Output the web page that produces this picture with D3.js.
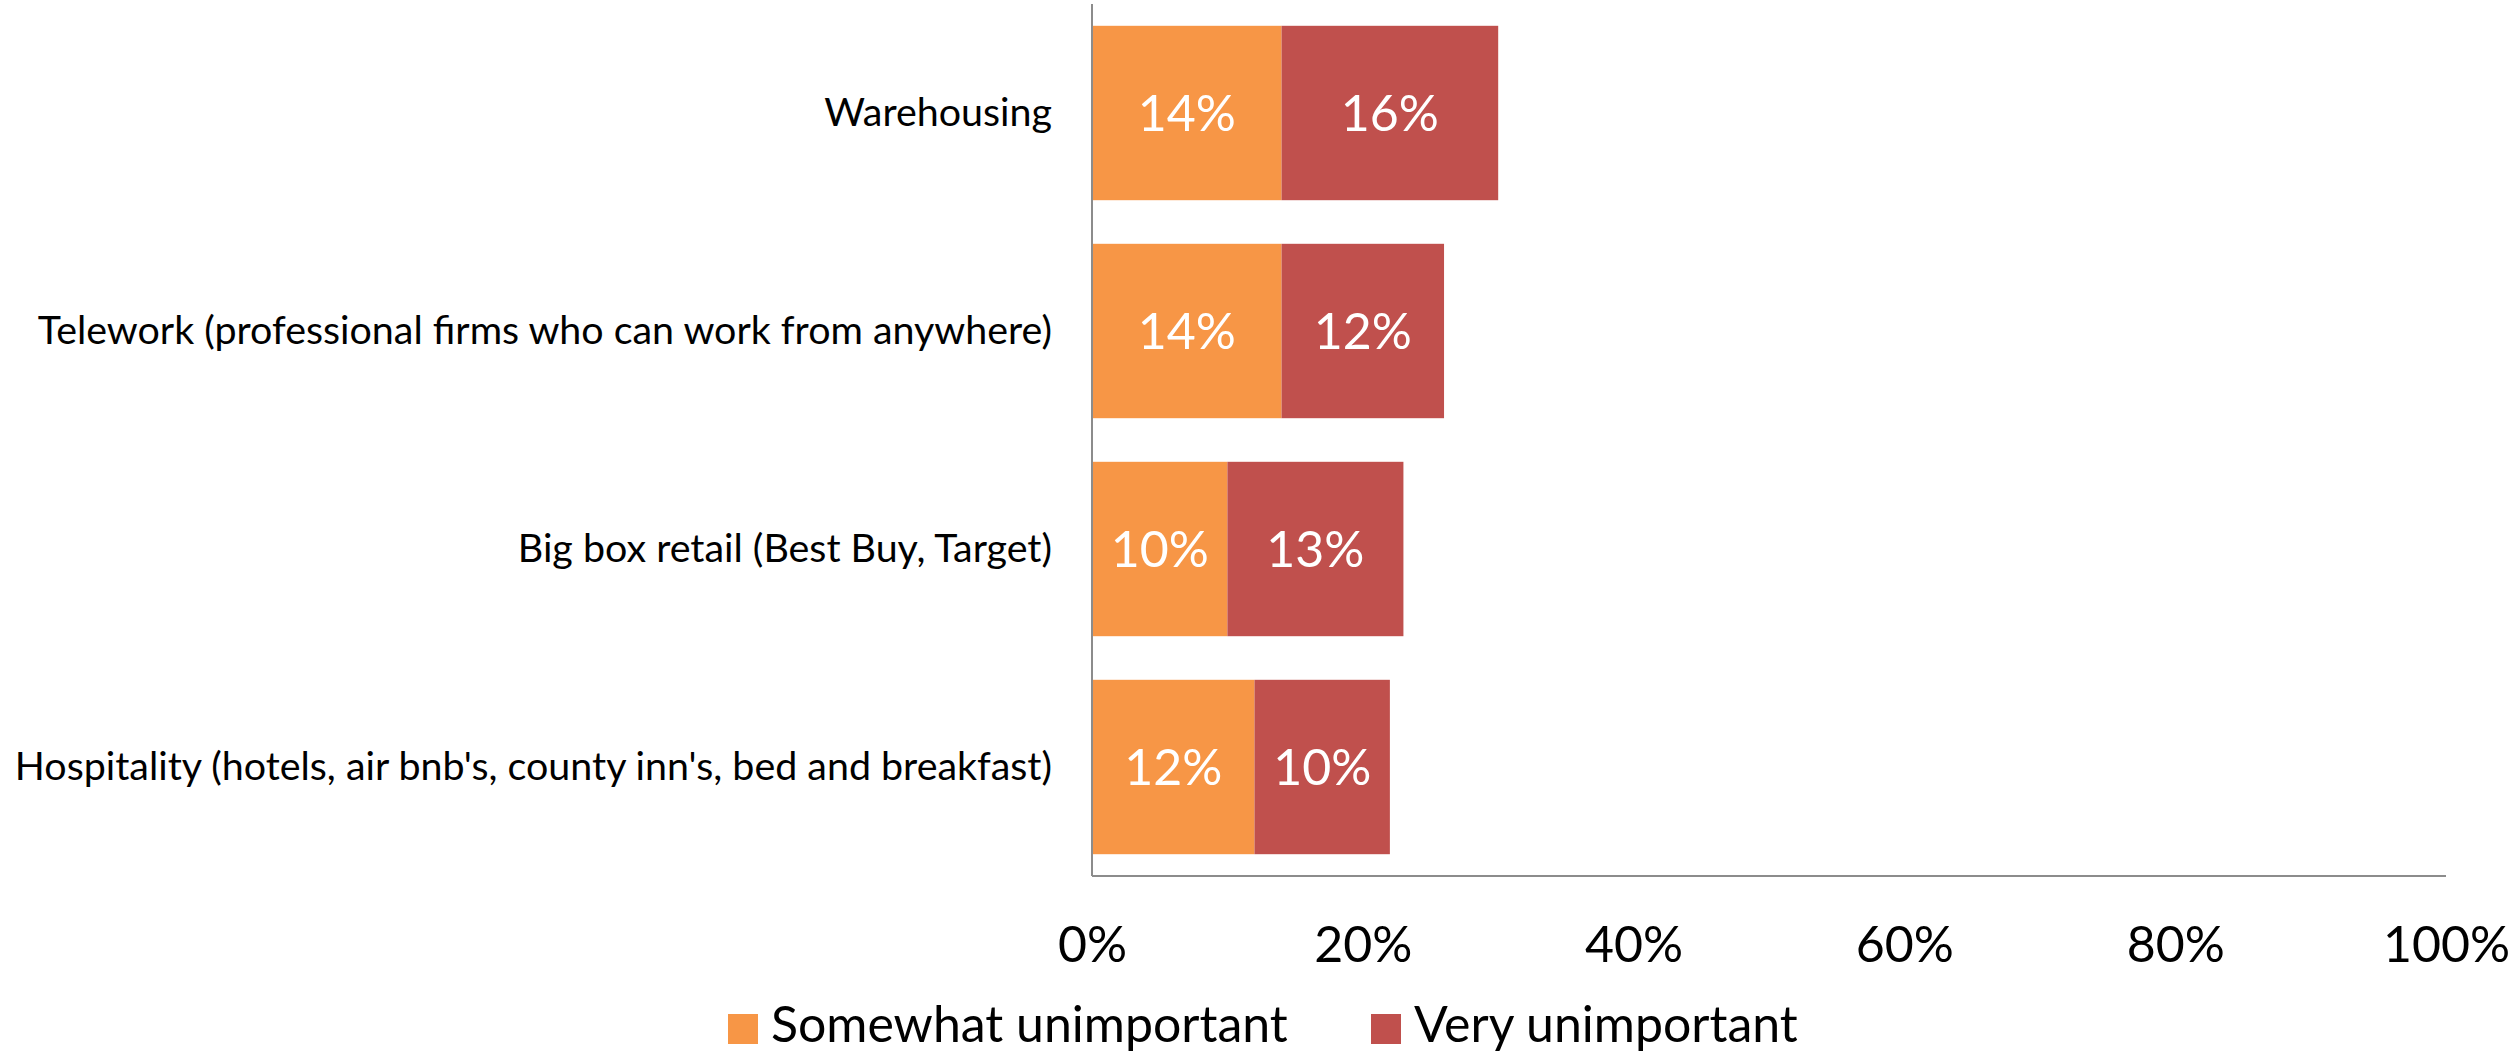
<!DOCTYPE html>
<html>
<head>
<meta charset="utf-8">
<script src="https://cdn.jsdelivr.net/npm/d3@7"></script>
<style>
  html, body { margin: 0; padding: 0; background: #ffffff; overflow: hidden; }
  svg { display: block; font-family: Lato, "Open Sans", sans-serif; }
</style>
</head>
<body>
<svg id="chart" width="2509" height="1053"></svg>
<script>
// Categories, top to bottom
const categories = [
  "Warehousing",
  "Telework (professional firms who can work from anywhere)",
  "Big box retail (Best Buy, Target)",
  "Hospitality (hotels, air bnb's, county inn's, bed and breakfast)"
];
// Share of respondents (%) per series
const somewhatUnimportant = [14, 14, 10, 12];
const veryUnimportant = [16, 12, 13, 10];
const seriesNames = ["Somewhat unimportant", "Very unimportant"];
const seriesColors = ["#F79646", "#C0504D"];
const tickValues = [0, 20, 40, 60, 80, 100];

const svg = d3.select("#chart");
const plot = { left: 1092, right: 2446, top: 4, bottom: 876 };

const x = d3.scaleLinear().domain([0, 100]).range([plot.left, plot.right]);
const y = d3.scaleBand().domain(categories).range([plot.top, plot.bottom])
  .paddingInner(0.2).paddingOuter(0.1);

const rows = categories.map((c, i) => ({ category: c, somewhat: somewhatUnimportant[i], very: veryUnimportant[i] }));
const stacked = d3.stack().keys(["somewhat", "very"])(rows);

// Stacked bars
const layers = svg.append("g").selectAll("g").data(stacked).join("g")
  .attr("fill", (d, i) => seriesColors[i]);
layers.selectAll("rect").data(d => d).join("rect")
  .attr("x", d => x(d[0]))
  .attr("width", d => x(d[1]) - x(d[0]))
  .attr("y", d => y(d.data.category))
  .attr("height", y.bandwidth());

// Value labels inside the segments
layers.selectAll("text").data(d => d.map(v => ({ v, key: d.key }))).join("text")
  .attr("x", d => (x(d.v[0]) + x(d.v[1])) / 2)
  .attr("y", d => y(d.v.data.category) + y.bandwidth() / 2)
  .attr("dy", "0.36em")
  .attr("text-anchor", "middle")
  .attr("fill", "#ffffff")
  .attr("font-size", 50)
  .text(d => (d.v[1] - d.v[0]) + "%");

// Category axis
const yAxis = svg.append("g").attr("transform", `translate(${plot.left},0)`)
  .call(d3.axisLeft(y).tickSize(0).tickPadding(40));
yAxis.select(".domain").remove();
yAxis.selectAll("text").attr("font-size", 39.4).attr("fill", "#000").attr("font-family", "Lato, sans-serif");

// Value axis
const xAxis = svg.append("g").attr("transform", `translate(0,${plot.bottom})`)
  .call(d3.axisBottom(x).tickValues(tickValues).tickFormat(d => d + "%").tickSize(0).tickPadding(50));
xAxis.select(".domain").remove();
xAxis.selectAll("text").attr("font-size", 50).attr("fill", "#000").attr("font-family", "Lato, sans-serif");

// Axis lines
svg.append("line").attr("x1", plot.left).attr("x2", plot.left)
  .attr("y1", plot.top).attr("y2", plot.bottom)
  .attr("stroke", "#8c8c8c").attr("stroke-width", 2);
svg.append("line").attr("x1", plot.left).attr("x2", plot.right)
  .attr("y1", plot.bottom).attr("y2", plot.bottom)
  .attr("stroke", "#8c8c8c").attr("stroke-width", 2);

// Legend
const legendX = [728, 1371];
const legend = svg.append("g").selectAll("g").data(seriesNames).join("g")
  .attr("transform", (d, i) => `translate(${legendX[i]},1014)`);
legend.append("rect").attr("width", 30).attr("height", 30)
  .attr("fill", (d, i) => seriesColors[i]);
legend.append("text").attr("x", 43).attr("y", 28)
  .attr("font-size", 50).attr("fill", "#000")
  .text(d => d);
</script>
</body>
</html>
